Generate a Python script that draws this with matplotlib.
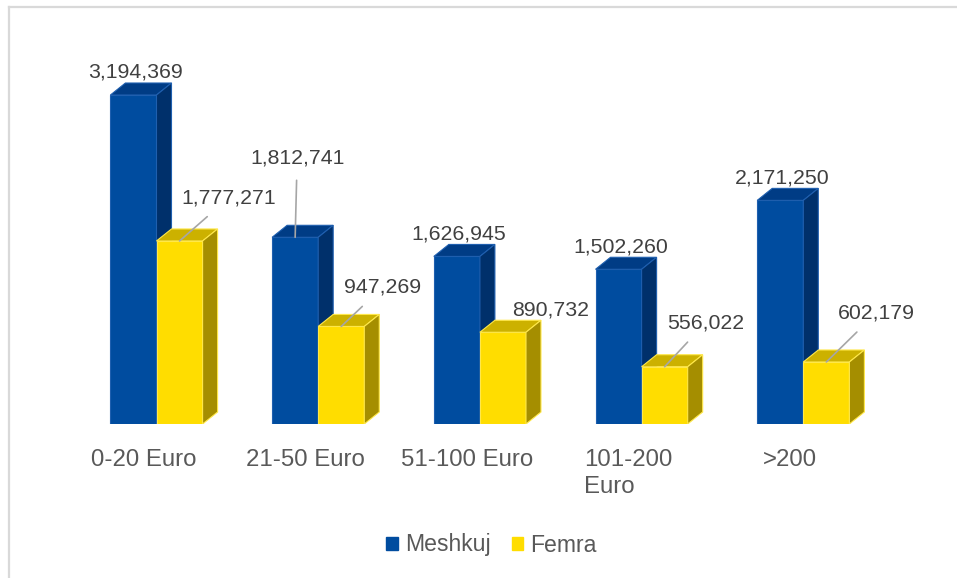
import matplotlib.pyplot as plt
from matplotlib.patches import Patch
from matplotlib.lines import Line2D

# --- data ---
categories = ['0-20 Euro', '21-50 Euro', '51-100 Euro', '101-200\nEuro', '>200']
meshkuj = [3194369, 1812741, 1626945, 1502260, 2171250]
femra = [1777271, 947269, 890732, 556022, 602179]

# label offsets (pixels, from the front-top centre of each bar) and whether a leader line is drawn
meshkuj_lbl = [(2, 23, False), (2, 79, True), (2, 22, False), (2, 22, False), (2, 22, False)]
femra_lbl = [(49, 43, True), (41, 39, True), (48, 22, False), (41, 44, True), (50, 49, True)]

W, H = 957, 578
plt.rcParams['font.family'] = ['Liberation Sans', 'DejaVu Sans']

fig = plt.figure(figsize=(W / 100, H / 100), dpi=100)

# axes placed so that category i sits at pixel 156.5 + 161.7*i, baseline at y=424
px_per_cat = 161.7
xmin, xmax = -0.6, 4.6
left_px = 156.5 + xmin * px_per_cat
right_px = 156.5 + xmax * px_per_cat
top_px, base_px = 40, 424
ax = fig.add_axes([left_px / W, (H - base_px) / H, (right_px - left_px) / W, (base_px - top_px) / H])
ymax = (base_px - top_px) * meshkuj[0] / 329.0
ax.set_xlim(xmin, xmax)
ax.set_ylim(0, ymax)
ax.axis('off')

bw = 0.285
dx = 15 / px_per_cat
dy = 12 / (base_px - top_px) * ymax

styles = {
    'blue': dict(front='#004C9F', top='#003C85', side='#00306B', edge='#1F5FAF', z=2),
    'yellow': dict(front='#FFDD00', top='#CCB100', side='#A58E00', edge='#FFE84A', z=3),
}


def draw_bars(xs, vals, st, label):
    ax.bar(xs, vals, width=bw, color=st['front'], edgecolor=st['edge'], linewidth=0.8,
           zorder=st['z'], label=label)
    for x, v in zip(xs, vals):
        x0, x1 = x - bw / 2, x + bw / 2
        ax.fill([x0, x1, x1 + dx, x0 + dx], [v, v, v + dy, v + dy],
                color=st['top'], ec=st['edge'], lw=0.8, zorder=st['z'])
        ax.fill([x1, x1 + dx, x1 + dx, x1], [0, dy, v + dy, v],
                color=st['side'], ec=st['edge'], lw=0.8, zorder=st['z'])


def add_labels(xs, vals, offs):
    for x, v, (ox, oy, lead) in zip(xs, vals, offs):
        ax.annotate(f'{v:,}', xy=(x, v), xytext=(ox, oy), textcoords='offset pixels',
                    ha='center', va='center', fontsize=15.3, color='#404040', zorder=5,
                    arrowprops=dict(arrowstyle='-', color='#A6A6A6', lw=1.2,
                                    shrinkA=7, shrinkB=0) if lead else None)


xb = [i - bw / 2 for i in range(len(categories))]
xy = [i + bw / 2 for i in range(len(categories))]
draw_bars(xb, meshkuj, styles['blue'], 'Meshkuj')
draw_bars(xy, femra, styles['yellow'], 'Femra')
add_labels(xb, meshkuj, meshkuj_lbl)
add_labels(xy, femra, femra_lbl)

# category labels
for i, cat in enumerate(categories):
    fx = (156.5 + i * px_per_cat - 13) / W
    fig.text(fx, 1 - 449 / H, cat, ha='center', va='top', ma='left',
             fontsize=17.3, color='#595959', linespacing=1.3)

# legend
handles = [Patch(color=styles['blue']['front']), Patch(color=styles['yellow']['front'])]
fig.legend(handles, ['Meshkuj', 'Femra'], loc='center', bbox_to_anchor=(491.5 / W, 1 - 545 / H),
           ncol=2, frameon=False, fontsize=16.6, labelcolor='#595959',
           handlelength=0.52, handleheight=0.52, handletextpad=0.3, columnspacing=0.9)

# light chart-area frame (left and top edges visible)
fig.add_artist(Line2D([8.5 / W, 8.5 / W], [0, 1 - 6.5 / H], color='#D9D9D9', lw=1.6))
fig.add_artist(Line2D([8.5 / W, 1], [1 - 6.5 / H, 1 - 6.5 / H], color='#D9D9D9', lw=1.6))

fig.savefig('out.png', dpi=100)
